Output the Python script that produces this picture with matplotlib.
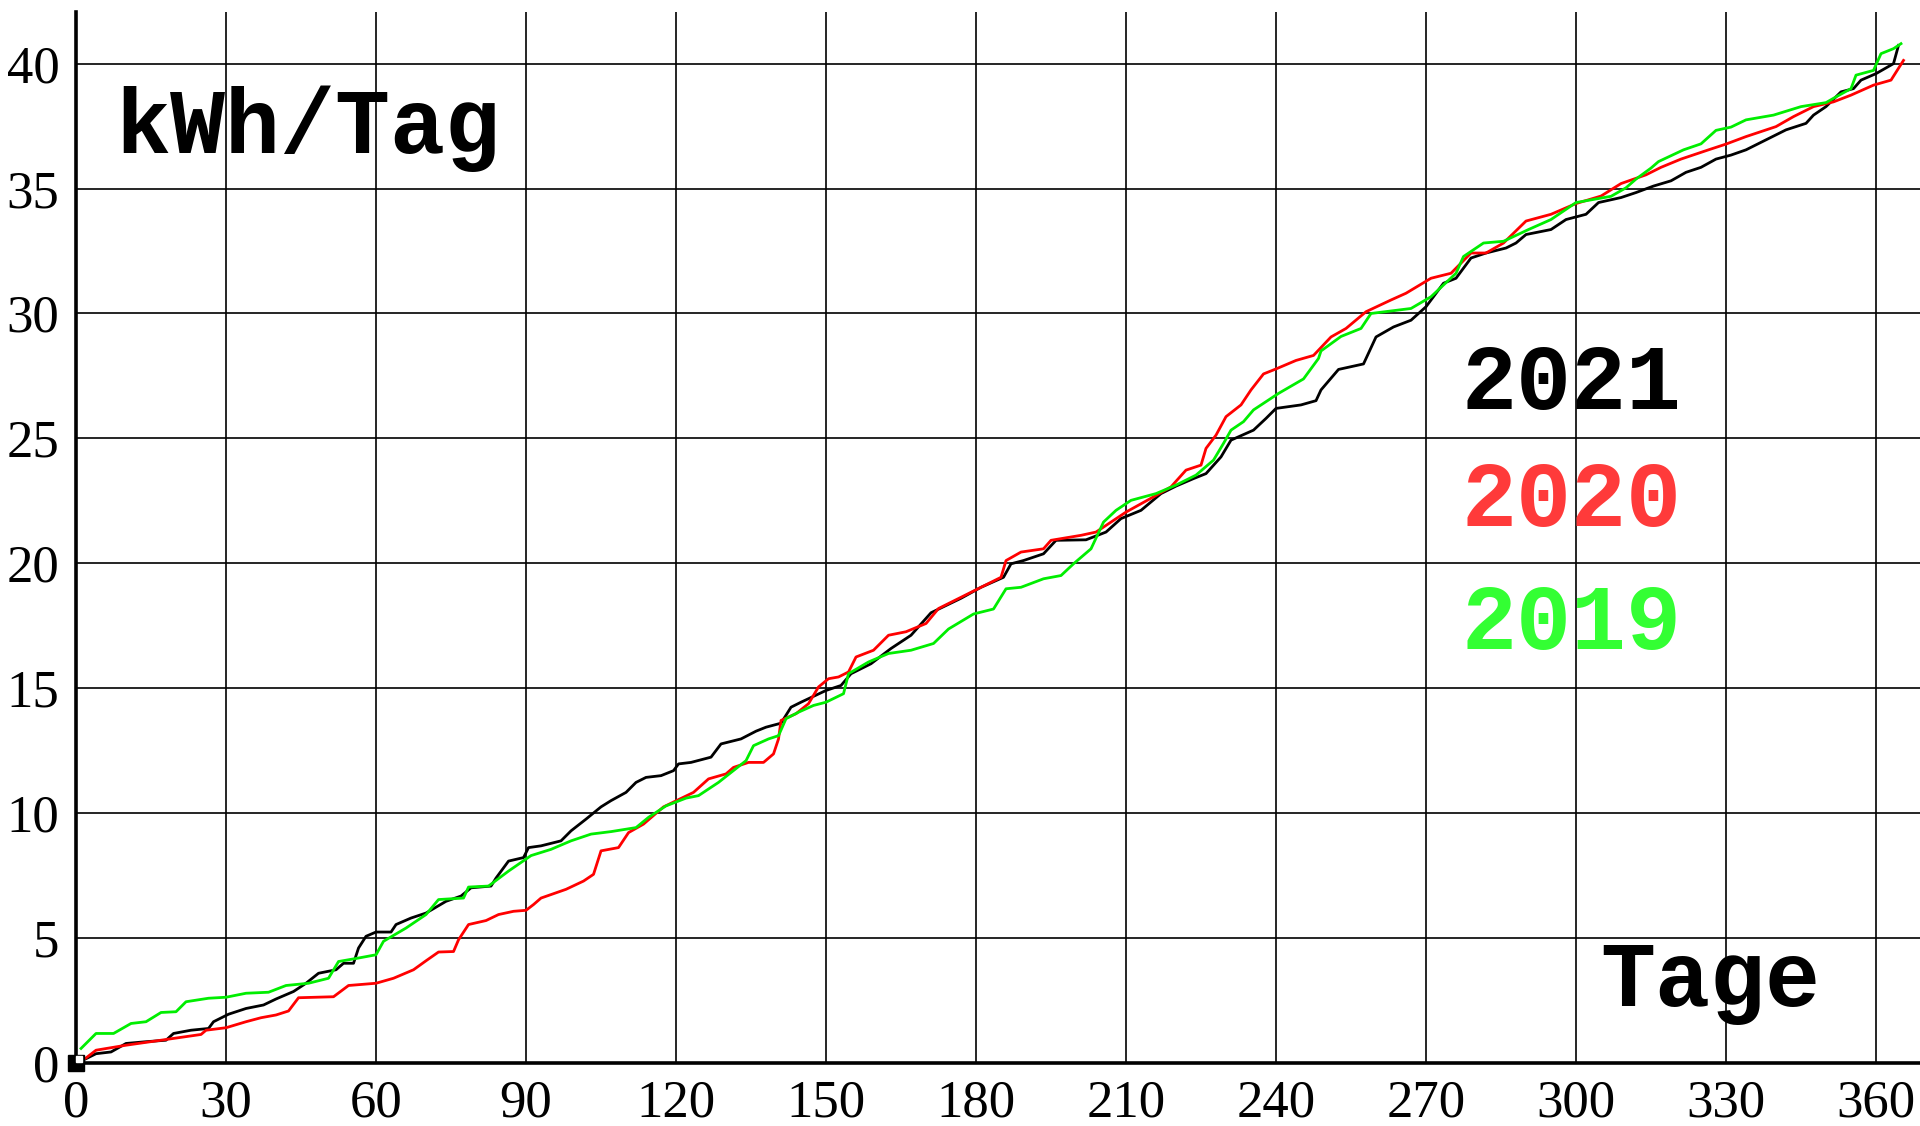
import matplotlib
matplotlib.use("Agg")
import matplotlib.pyplot as plt

# cumulative curves (day of year -> kWh)
days_2021 = [0, 2, 4, 7, 10, 14, 18, 19.5, 23, 26.5, 27.5, 30.5, 34, 37.5, 40, 43.5,
             46, 48.5, 52, 53.5, 55.5, 56.5, 58, 60, 63, 64, 67, 70, 74, 77, 79, 83,
             84, 86.5, 89.5, 90.5, 93, 97, 99, 102, 105, 107, 110, 112, 114, 117, 119.5, 120.5,
             123, 127, 129, 133, 136, 138, 141, 143, 145, 150, 153, 155, 159, 163, 167, 171,
             177, 181, 185.5, 187, 189.5, 193.5, 196, 202, 206, 209, 213, 217, 220, 223.5, 226, 229,
             231, 235.5, 238, 240, 245, 248, 249, 252.5, 257.5, 260, 263.5, 267, 270, 273.5, 276, 279,
             282, 286, 288, 290, 295, 298, 302, 304.5, 309, 312, 315.5, 319, 322, 325, 328, 331,
             334, 338, 342, 346, 347.5, 350, 353, 355.5, 357, 360, 363.5, 364.5]
kwh_2021 = [0, 0.17, 0.37, 0.44, 0.78, 0.85, 0.91, 1.18, 1.31, 1.38, 1.65, 1.95, 2.18, 2.32, 2.56, 2.86,
            3.19, 3.59, 3.73, 3.99, 3.99, 4.6, 5.07, 5.24, 5.24, 5.54, 5.8, 6.0, 6.47, 6.68, 7.01, 7.08,
            7.4, 8.08, 8.22, 8.62, 8.69, 8.89, 9.29, 9.76, 10.25, 10.5, 10.83, 11.23, 11.43, 11.5, 11.7, 11.97,
            12.03, 12.24, 12.77, 12.97, 13.28, 13.44, 13.6, 14.24, 14.44, 14.91, 15.11, 15.58, 15.98, 16.59, 17.12, 18.02,
            18.6, 19.04, 19.44, 19.98, 20.11, 20.38, 20.92, 20.94, 21.25, 21.79, 22.12, 22.79, 23.09, 23.39, 23.59, 24.26,
            24.93, 25.33, 25.8, 26.2, 26.34, 26.51, 26.94, 27.76, 27.98, 29.06, 29.46, 29.73, 30.27, 31.21, 31.41, 32.22,
            32.42, 32.62, 32.82, 33.16, 33.36, 33.76, 33.97, 34.44, 34.64, 34.84, 35.1, 35.31, 35.65, 35.85, 36.18, 36.34,
            36.55, 36.95, 37.35, 37.61, 37.94, 38.28, 38.87, 39.0, 39.34, 39.6, 40.0, 40.73]

days_2020 = [0, 2, 4, 10, 17, 25, 26, 30, 34, 37, 40, 42.5, 44.5, 51.5, 54.5, 60,
             63.5, 67.5, 70, 72.5, 75.5, 76.5, 78.5, 82, 84.5, 87.5, 90, 91.5, 93, 98, 101.5, 103.5,
             105, 108.5, 110.5, 113.5, 117.5, 123.5, 126.5, 130, 131.5, 134.5, 137.5, 139.5, 140.5, 141, 144, 146.5,
             148.5, 150.5, 152.5, 154.5, 156, 159.5, 162.5, 166, 170, 172.5, 177, 181, 185, 186,
             189, 193.5, 195, 201, 204, 210, 215.5, 219, 222, 225, 226, 228, 230, 233, 235, 237.5,
             240, 244, 247.5, 251, 254, 258, 263, 266, 271, 275, 279, 282, 285.5, 290, 295, 300,
             305, 309, 314, 317, 321, 326.5, 330, 334, 340, 343.5, 347.5, 351.5, 355, 359.5, 363, 365.5]
kwh_2020 = [0, 0.2, 0.51, 0.71, 0.91, 1.14, 1.31, 1.41, 1.65, 1.81, 1.92, 2.08, 2.61, 2.65, 3.1, 3.19,
            3.39, 3.73, 4.09, 4.44, 4.46, 4.93, 5.54, 5.7, 5.94, 6.07, 6.11, 6.34, 6.6, 6.95, 7.28, 7.55,
            8.49, 8.62, 9.22, 9.56, 10.25, 10.83, 11.37, 11.57, 11.83, 12.03, 12.03, 12.37, 12.97, 13.71, 13.98, 14.38,
            15.05, 15.38, 15.45, 15.65, 16.25, 16.52, 17.12, 17.26, 17.59, 18.19, 18.64, 19.04, 19.44, 20.11,
            20.45, 20.58, 20.92, 21.12, 21.25, 22.05, 22.66, 23.06, 23.73, 23.93, 24.6, 25.13, 25.87, 26.34, 26.94, 27.58,
            27.78, 28.12, 28.32, 29.06, 29.4, 30.07, 30.54, 30.81, 31.41, 31.61, 32.42, 32.42, 32.82, 33.7, 33.97, 34.4,
            34.7, 35.2, 35.55, 35.85, 36.18, 36.55, 36.78, 37.08, 37.48, 37.88, 38.28, 38.47, 38.74, 39.14, 39.34, 40.13]

days_2019 = [1, 4, 7.5, 11, 14, 17, 20, 22, 26.5, 30, 34, 38.5, 42, 46.5, 50.5, 52.5,
             56.5, 60, 61.5, 66, 70, 72.5, 77.5, 78.5, 82.5, 86.5, 91, 95, 99, 103, 107, 112,
             114.5, 118, 122, 124.5, 128.5, 134, 135.5, 138.5, 140.5, 142, 144.5, 147.5, 150, 153.5, 154.5, 158.5,
             162.5, 167, 171.5, 174.5, 179.5, 183.5, 186, 189, 193.5, 197, 199.5, 203, 205.5, 208, 211, 216,
             220, 224, 227.5, 229.5, 231, 233.5, 235.5, 238, 240.5, 245.5, 248.5, 249, 253, 257, 259, 267,
             271, 273.5, 276, 277.5, 281.5, 285.5, 290.5, 295, 300, 307, 310, 312, 315, 316.5, 321.5, 325,
             328, 331, 334, 339.5, 345, 350, 352, 355, 356, 359.5, 361, 363.5, 365]
kwh_2019 = [0.58, 1.18, 1.18, 1.58, 1.65, 2.02, 2.05, 2.45, 2.59, 2.63, 2.79, 2.83, 3.1, 3.19, 3.39, 4.06,
            4.2, 4.33, 4.87, 5.4, 5.94, 6.54, 6.6, 7.04, 7.08, 7.68, 8.3, 8.55, 8.89, 9.16, 9.26, 9.42,
            9.83, 10.29, 10.6, 10.7, 11.23, 12.1, 12.7, 12.97, 13.1, 13.78, 14.04, 14.31, 14.44, 14.78, 15.58, 16.05,
            16.39, 16.52, 16.79, 17.37, 17.97, 18.17, 18.98, 19.04, 19.38, 19.51, 19.98, 20.58, 21.65, 22.12, 22.52, 22.79,
            23.13, 23.53, 24.13, 24.8, 25.33, 25.67, 26.14, 26.47, 26.8, 27.38, 28.2, 28.5, 29.08, 29.4, 30.0, 30.2,
            30.67, 31.14, 31.61, 32.28, 32.82, 32.89, 33.36, 33.76, 34.44, 34.69, 35.03, 35.38, 35.82, 36.08, 36.55, 36.79,
            37.33, 37.46, 37.75, 37.94, 38.28, 38.44, 38.67, 39.0, 39.54, 39.73, 40.4, 40.6, 40.8]

x_ticks = list(range(0, 361, 30))
y_ticks = list(range(0, 41, 5))

# (label, days, values, line colour, label colour)
SERIES = [
    ("2021", days_2021, kwh_2021, "#000000", "#000000"),
    ("2020", days_2020, kwh_2020, "#ff0000", "#ff3a3a"),
    ("2019", days_2019, kwh_2019, "#00ee00", "#33ff33"),
]

fig = plt.figure(figsize=(19.2, 11.26), dpi=100)
ax = fig.add_axes([0.0396, 0.056, 0.9604, 0.9334])

for name, d, v, col, _ in SERIES:
    ax.plot(d, v, color=col, linewidth=2.0, zorder=3)

# little square marker at the origin
ax.plot([0], [0], marker="s", markersize=12, color="black", clip_on=False, zorder=5)
ax.plot([0.6], [0.15], marker="s", markersize=4, color="white", clip_on=False, zorder=6)

ax.set_xlim(0, 368.8)
ax.set_ylim(0, 42.07)
ax.set_xticks(x_ticks)
ax.set_yticks(y_ticks)
ax.grid(True, color="black", linewidth=1.2)
ax.set_axisbelow(True)
ax.tick_params(length=0, labelsize=38, pad=12)
for lab in ax.get_xticklabels() + ax.get_yticklabels():
    lab.set_fontfamily("Liberation Serif")

for side in ["top", "right"]:
    ax.spines[side].set_visible(False)
for side in ["left", "bottom"]:
    ax.spines[side].set_linewidth(2.6)

mono = dict(family="Liberation Mono", fontweight="bold", fontsize=66)
ax.text(7.8, 36.43, "kWh/Tag", color="black", va="baseline", ha="left", **mono)
ax.text(304.8, 2.26, "Tage", color="black", va="baseline", ha="left", **mono)

year_y = [26.17, 21.48, 16.55]
for (name, _, _, _, tcol), yy in zip(SERIES, year_y):
    ax.text(277, yy, name, color=tcol, va="baseline", ha="left", **mono)

fig.savefig("out.png", dpi=100)
